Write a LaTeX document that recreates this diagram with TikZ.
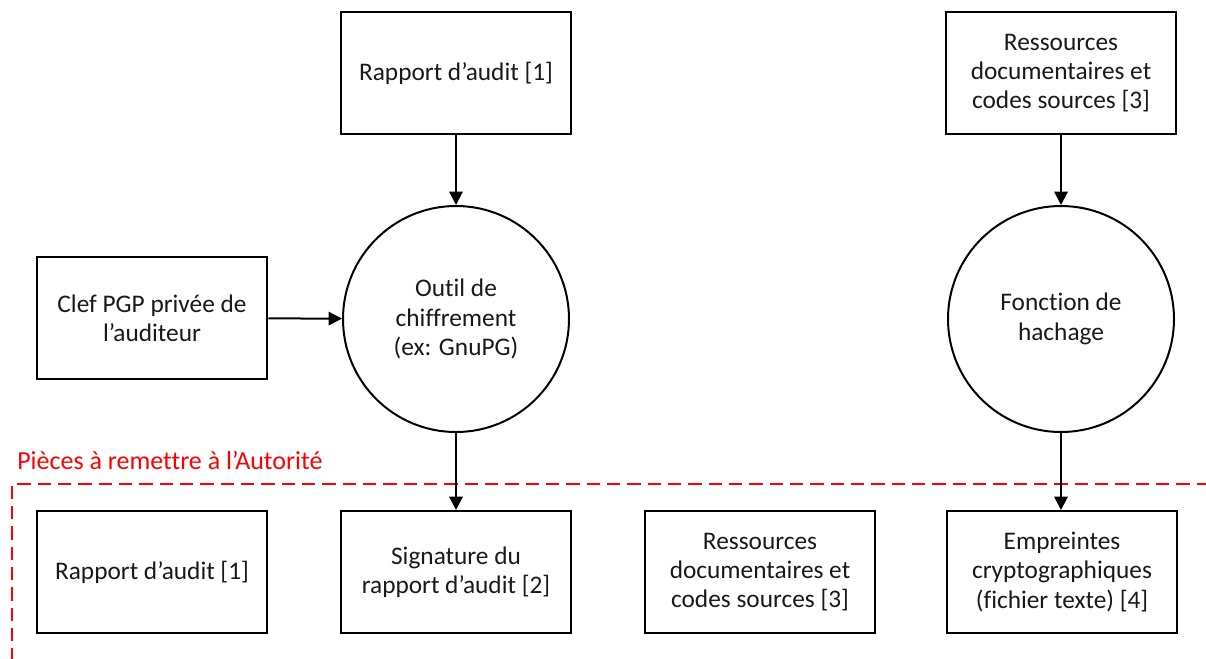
\documentclass[tikz,border=0pt]{standalone}
\usepackage{fontspec}
\setmainfont{Carlito}[Ligatures=CommonOff]
\usetikzlibrary{arrows.meta}
\begin{document}
\begin{tikzpicture}[x=0.75pt,y=-0.75pt,
  box/.style={draw=black,line width=1.5pt,minimum width=173pt,minimum height=91.5pt,inner sep=0pt,align=center,font=\fontsize{19}{22}\selectfont,text=black!90},
  disc/.style={draw=black,line width=1.5pt,circle,minimum size=169.5pt,inner sep=0pt,align=center,font=\fontsize{19}{22}\selectfont,text=black!90},
  conn/.style={line width=1.5pt,-{Triangle[length=10pt,width=10pt]}}]
\useasboundingbox (0,0) rectangle (1206,658);
\node[box] (rap) at (456,73) {Rapport d’audit [1]};
\node[box] (res) at (1061,73) {Ressources\\documentaires et\\codes sources [3]};
\node[box] (clef) at (152,318) {Clef PGP privée de\\l’auditeur};
\node[disc] (outil) at (456,319) {Outil de\\chiffrement\\(ex: GnuPG)};
\node[disc] (hach) at (1061,319) {Fonction de\\hachage};
\node[box] (b1) at (152,572) {Rapport d’audit [1]};
\node[box] (b2) at (456,572) {Signature du\\rapport d’audit [2]};
\node[box] (b3) at (760,572) {Ressources\\documentaires et\\codes sources [3]};
\node[box] (b4) at (1062,572) {Empreintes\\cryptographiques\\(fichier texte) [4]};
\node[anchor=west,inner sep=0pt,text=red,font=\fontsize{19.5}{22}\selectfont] (lbl) at (17,460) {Pièces à remettre à l’Autorité};
\coordinate (dr) at (1210,484);
\coordinate (dc) at (12,484);
\coordinate (db) at (12,662);
\draw[red,line width=1.5pt,dash pattern=on 10pt off 5.25pt] (dr) -- (dc) -- (db);
\draw[conn] (rap) -- (outil);
\draw[conn] (res) -- (hach);
\draw[conn] (clef) -- (outil);
\draw[conn] (outil) -- (b2);
\draw[conn] (hach) -- (hach |- b4.north);
\end{tikzpicture}
\end{document}
